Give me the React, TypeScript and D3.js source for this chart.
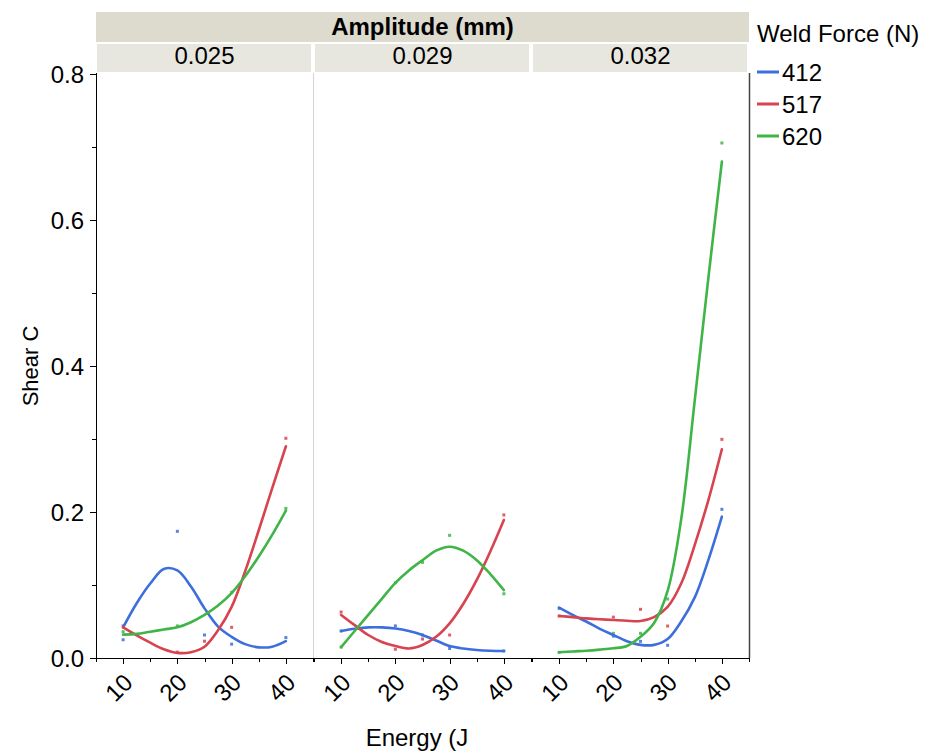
import React from 'react';
import * as d3 from 'd3';

const amplitudes = ['0.025', '0.029', '0.032'];
const forces = ['412', '517', '620'];
const colors = ['#3d6fdc', '#d7434f', '#3fb447'];
const yTicks = [0, 0.2, 0.4, 0.6, 0.8];
const yMinor = [0.1, 0.3, 0.5, 0.7];
const xTicks = [10, 20, 30, 40];
const xMinor = [5, 15, 25, 35, 45];

// observed points [energy, shear]
const pts025_412 = [[10, 0.025], [20, 0.1735], [25, 0.0315], [30, 0.019], [40, 0.028]];
const pts025_517 = [[10, 0.044], [20, 0.008], [25, 0.023], [30, 0.042], [40, 0.301]];
const pts025_620 = [[10, 0.036], [20, 0.044], [30, 0.09], [40, 0.205]];
const pts029_412 = [[10, 0.037], [20, 0.044], [25, 0.0315], [30, 0.013], [40, 0.0096]];
const pts029_517 = [[10, 0.063], [20, 0.012], [25, 0.026], [30, 0.0315], [40, 0.196]];
const pts029_620 = [[10, 0.015], [20, 0.103], [25, 0.131], [30, 0.168], [40, 0.088]];
const pts032_412 = [[10, 0.068], [20, 0.030], [25, 0.0228], [30, 0.0174], [40, 0.2037]];
const pts032_517 = [[10, 0.0575], [20, 0.056], [25, 0.0667], [30, 0.0438], [40, 0.2995]];
const pts032_620 = [[10, 0.0078], [20, 0.0338], [25, 0.0338], [30, 0.0808], [40, 0.7055]];

// smoother fit values sampled at fitEnergy
const fitEnergy = [10, 12.5, 15, 17.5, 20, 22.5, 25, 27.5, 30, 32.5, 35, 37.5, 40];
const fit025_412 = [0.042, 0.075, 0.102, 0.122, 0.120, 0.098, 0.068, 0.043, 0.029, 0.019, 0.0146, 0.0155, 0.023];
const fit025_517 = [0.042, 0.031, 0.021, 0.012, 0.007, 0.008, 0.0155, 0.038, 0.070, 0.119, 0.175, 0.233, 0.290];
const fit025_620 = [0.032, 0.033, 0.036, 0.039, 0.042, 0.049, 0.059, 0.072, 0.089, 0.112, 0.139, 0.169, 0.202];
const fit029_412 = [0.037, 0.040, 0.042, 0.042, 0.0405, 0.037, 0.0315, 0.024, 0.0164, 0.013, 0.011, 0.010, 0.0096];
const fit029_517 = [0.059, 0.045, 0.0315, 0.022, 0.0164, 0.013, 0.0178, 0.029, 0.0475, 0.074, 0.107, 0.146, 0.189];
const fit029_620 = [0.015, 0.037, 0.059, 0.081, 0.103, 0.120, 0.134, 0.147, 0.1525, 0.147, 0.134, 0.115, 0.093];
const fit032_412 = [0.069, 0.059, 0.050, 0.040, 0.0315, 0.023, 0.018, 0.018, 0.026, 0.05, 0.083, 0.134, 0.1936];
const fit032_517 = [0.0575, 0.056, 0.0543, 0.053, 0.052, 0.051, 0.0507, 0.056, 0.070, 0.102, 0.155, 0.216, 0.286];
const fit032_620 = [0.0078, 0.009, 0.010, 0.0115, 0.0133, 0.0165, 0.029, 0.048, 0.092, 0.19, 0.353, 0.52, 0.68];

const panelPoints = [
  [pts025_412, pts025_517, pts025_620],
  [pts029_412, pts029_517, pts029_620],
  [pts032_412, pts032_517, pts032_620],
];
const panelFits = [
  [fit025_412, fit025_517, fit025_620],
  [fit029_412, fit029_517, fit029_620],
  [fit032_412, fit032_517, fit032_620],
];

const FONT = '"Liberation Sans", Arial, sans-serif';
const FS = 24;
const W = 925;
const H = 752;
const plotLeft = 96;
const plotRight = 749;
const plotTop = 73;
const plotBottom = 658;
const panelRanges = [[96, 313], [314, 531], [532, 749]];

export default function App() {
  const y = d3.scaleLinear().domain([0, 0.8]).range([plotBottom, 74]);
  const xs = panelRanges.map((r) => d3.scaleLinear().domain([5, 45]).range(r));

  return (
    <svg width={W} height={H} style={{ position: 'absolute', left: 0, top: 0, background: '#fff' }} fontFamily={FONT}>
      {/* header */}
      <rect x={plotLeft} y={12} width={plotRight - plotLeft} height={30} fill="#dcdbcd" />
      <text x={(plotLeft + plotRight) / 2} y={35} textAnchor="middle" fontSize={FS} fontWeight="bold" fill="#000">Amplitude (mm)</text>
      {amplitudes.map((a, i) => {
        const [a0, a1] = panelRanges[i];
        return (
          <g key={a}>
            <rect x={a0 + 1} y={44} width={a1 - a0 - 3} height={28} fill="#e8e7df" />
            <text x={(a0 + a1) / 2} y={64} textAnchor="middle" fontSize={FS} fill="#000">{a}</text>
          </g>
        );
      })}

      {/* panel separator */}
      <line x1={313.5} x2={313.5} y1={plotTop} y2={plotBottom} stroke="#d4d4d4" strokeWidth={1} />

      {/* y axis */}
      <line x1={plotLeft + 0.5} x2={plotLeft + 0.5} y1={plotTop} y2={plotBottom} stroke="#000" strokeWidth={1} />
      <line x1={plotRight + 0.5} x2={plotRight + 0.5} y1={plotTop} y2={plotBottom} stroke="#444" strokeWidth={1.5} />
      {yTicks.map((t) => (
        <g key={t}>
          <line x1={plotLeft - 6} x2={plotLeft} y1={Math.round(y(t)) + 0.5} y2={Math.round(y(t)) + 0.5} stroke="#000" />
          <text x={84} y={y(t)} dy="0.36em" textAnchor="end" fontSize={FS} fill="#000">{t.toFixed(1)}</text>
        </g>
      ))}
      {yMinor.map((t) => (
        <line key={t} x1={plotLeft - 4} x2={plotLeft} y1={Math.round(y(t)) + 0.5} y2={Math.round(y(t)) + 0.5} stroke="#000" />
      ))}
      <text transform={`translate(38,366) rotate(-90)`} textAnchor="middle" fontSize={22} fill="#000">Shear C</text>

      {/* x axis */}
      <line x1={plotLeft} x2={plotRight + 1} y1={plotBottom + 0.5} y2={plotBottom + 0.5} stroke="#000" />
      {xs.map((x, pi) => (
        <g key={pi}>
          {xTicks.map((t) => (
            <g key={t}>
              <line x1={Math.round(x(t)) + 0.5} x2={Math.round(x(t)) + 0.5} y1={plotBottom} y2={plotBottom + 6} stroke="#000" />
              <text transform={`translate(${x(t) - 1},${672}) rotate(-45)`} dy="0.71em" textAnchor="end" fontSize={FS} fill="#000">{t}</text>
            </g>
          ))}
          {xMinor.map((t) => (
            <line key={t} x1={Math.round(x(t)) + 0.5} x2={Math.round(x(t)) + 0.5} y1={plotBottom} y2={plotBottom + 4} stroke="#000" />
          ))}
        </g>
      ))}
      <text x={417} y={746} textAnchor="middle" fontSize={FS} fill="#000">Energy (J</text>

      {/* data */}
      {xs.map((x, pi) => (
        <g key={pi}>
          {panelPoints[pi].map((pts, si) => (
            <g key={si}>
              {pts.map(([e, v], k) => (
                <rect key={k} x={x(e) - 1.5} y={y(v) - 1.5} width={3} height={3} fill={colors[si]} opacity={0.85} />
              ))}
            </g>
          ))}
          {panelFits[pi].map((vals, si) => {
            const line = d3
              .line<number>()
              .x((_, i) => x(fitEnergy[i]))
              .y((d) => y(d))
              .curve(d3.curveCatmullRom.alpha(0.5));
            return <path key={si} d={line(vals) || ''} fill="none" stroke={colors[si]} strokeWidth={2.6} strokeLinecap="round" />;
          })}
        </g>
      ))}

      {/* legend */}
      <text x={757} y={42} fontSize={FS} fill="#000">Weld Force (N)</text>
      {forces.map((f, i) => (
        <g key={f}>
          <line x1={757} x2={779} y1={72 + i * 32} y2={72 + i * 32} stroke={colors[i]} strokeWidth={3} />
          <text x={782} y={72 + i * 32} dy="0.36em" fontSize={FS} fill="#000">{f}</text>
        </g>
      ))}
    </svg>
  );
}
